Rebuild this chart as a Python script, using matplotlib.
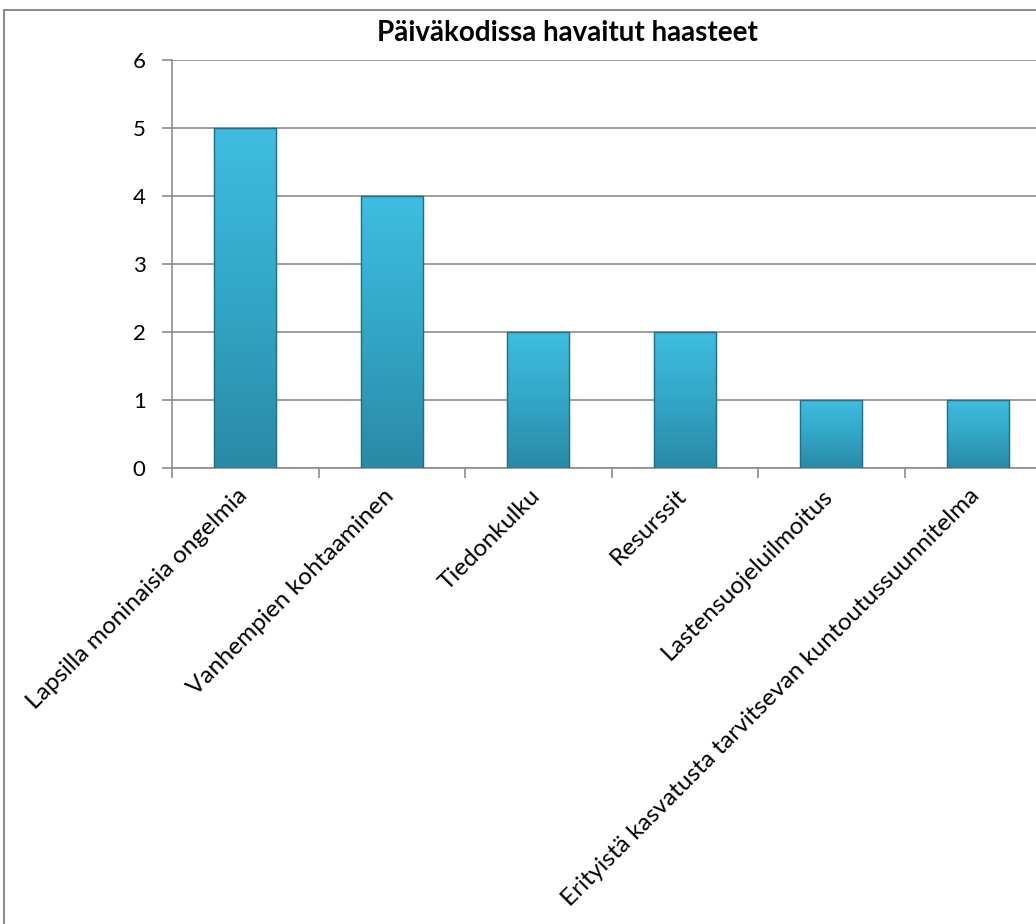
import matplotlib
matplotlib.use("Agg")
import matplotlib.pyplot as plt
import numpy as np
from matplotlib.patches import Rectangle
from matplotlib.colors import LinearSegmentedColormap
from matplotlib.transforms import ScaledTranslation

categories = ["Lapsilla moninaisia ongelmia", "Vanhempien kohtaaminen", "Tiedonkulku",
              "Resurssit", "Lastensuojeluilmoitus",
              "Erityistä kasvatusta tarvitsevan kuntoutussuunnitelma"]
values = [5, 4, 2, 2, 1, 1]
yticks = [0, 1, 2, 3, 4, 5, 6]
title = "Päiväkodissa havaitut haasteet"

plt.rcParams['font.family'] = ['Lato', 'DejaVu Sans']

fig = plt.figure(figsize=(10.36, 9.24), dpi=100)
ax = fig.add_axes([172/1036, 1-468/924, 879/1036, 408/924])

x = np.arange(len(categories))
width = 0.42
bars = ax.bar(x, values, width=width, color="#34a9c9", edgecolor="#1f6f86", linewidth=0.8, zorder=3)

cmap = LinearSegmentedColormap.from_list("b", ["#2a8aa6", "#33a6c6", "#3fbde0"])
for b in bars:
    x0, y0 = b.get_x(), b.get_y()
    w, h = b.get_width(), b.get_height()
    grad = np.linspace(0, 1, 256).reshape(-1, 1)
    im = ax.imshow(grad, extent=[x0, x0 + w, y0, y0 + h], origin="lower", cmap=cmap,
                   aspect="auto", zorder=3.1)
    im.set_clip_path(b)
    ax.add_patch(Rectangle((x0, y0), w, h, fill=False, edgecolor="#1f6f86", linewidth=1.0, zorder=3.2))

ax.set_xlim(-0.5, len(categories) - 0.5)
ax.set_ylim(0, 6)
ax.set_yticks(yticks)
ax.set_yticklabels([str(t) for t in yticks], fontsize=16)
ax.yaxis.grid(True, color="#8c8c8c", linewidth=1.2, zorder=0)
ax.set_axisbelow(True)

ax.set_xticks(x)
ax.set_xticklabels(categories, rotation=45, ha="right", rotation_mode="anchor", fontsize=17.6)
ax.tick_params(axis="x", which="major", length=0, pad=13)
ax.set_xticks(np.arange(-0.5, len(categories) + 0.5, 1), minor=True)
ax.tick_params(axis="x", which="minor", length=7, color="#8c8c8c", width=1.2, direction="out")
ax.tick_params(axis="y", length=7, color="#8c8c8c", width=1.2, pad=12)

shift = ScaledTranslation(-9/100, 1/100, fig.dpi_scale_trans)
for lab in ax.get_xticklabels():
    lab.set_transform(lab.get_transform() + shift)

for s in ["top", "right"]:
    ax.spines[s].set_visible(False)
for s in ["left", "bottom"]:
    ax.spines[s].set_color("#8c8c8c")
    ax.spines[s].set_linewidth(1.2)

fig.text(567/1036, 1-33/924, title, ha="center", va="center", fontsize=20, fontweight="bold")

fig.add_artist(Rectangle((4/1036, -0.1), 1.2, 1.0 - 10/924 + 0.1, transform=fig.transFigure,
                         fill=False, edgecolor="#8c8c8c", linewidth=1.5))

fig.savefig("out.png", dpi=100)
